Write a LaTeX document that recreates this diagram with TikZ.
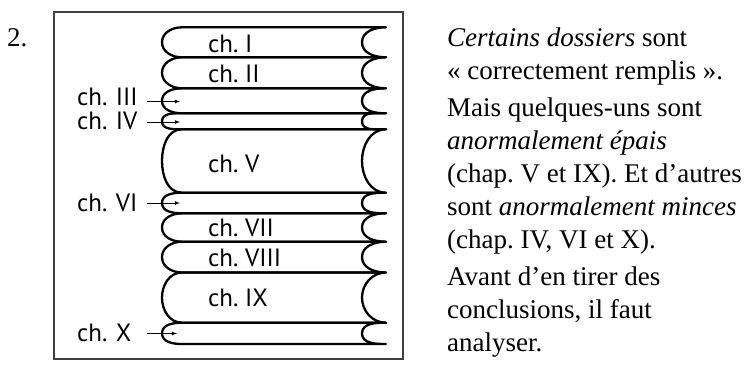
\documentclass[tikz,border=0pt]{standalone}
\usepackage{fontspec}
\setmainfont{Liberation Serif}
\newfontfamily\labelfont{PT Sans}
\frenchspacing
\tikzset{arrow/.style={->, >=latex, line width=0.8pt, shorten <=6pt}}
\tikzset{chapter/.style={line width=2.3pt, line join=round}}
\tikzset{chlabel/.style={anchor=base west, inner sep=0pt, font=\labelfont\fontsize{25}{25}\selectfont}}
\tikzset{outlabel/.style={chlabel, text width=64pt, align=left}}
\tikzset{prose/.style={anchor=base west, inner sep=0pt, font=\fontsize{27}{33}\selectfont}}

\begin{document}
\begin{tikzpicture}[x=1pt, y=-1pt]
      \useasboundingbox (0,0) rectangle (750,365);
      \node[prose] (num) at (7,46) {2.};
      \draw[black!75, line width=1.2pt] (54,12) rectangle (403,359);

      \foreach \t/\b in {27.3/57.3, 57.3/88.3, 88.3/113.3, 113.3/129.3, 129.3/192.7,
                         192.7/213.3, 213.3/241.7, 241.7/272.5, 272.5/322.7, 322.7/344}
        \draw[chapter] (182,\t) -- (386,\t)
            to[out=180, in=90] (362,{(\t+\b)/2}) to[out=270, in=180] (386,\b)
            -- (182,\b)
            to[out=180, in=270] (162,{(\t+\b)/2}) to[out=90, in=180] (182,\t);

      \node[chlabel] (chI) at (208,52.5) {ch. I};
      \node[chlabel] (chII) at (208,82) {ch. II};
      \node[chlabel] (chV) at (208,172) {ch. V};
      \node[chlabel] (chVII) at (208,236.5) {ch. VII};
      \node[chlabel] (chVIII) at (208,266) {ch. VIII};
      \node[chlabel] (chIX) at (208,306) {ch. IX};

      \node[outlabel] (chIII) at (77,105) {ch. III};
      \node[outlabel] (chIV) at (77,129.5) {ch. IV};
      \node[outlabel] (chVI) at (77,211) {ch. VI};
      \node[outlabel] (chX) at (77,341) {ch. X};

      \coordinate (pIII) at (180,101.5);
      \coordinate (pIV) at (180,122);
      \coordinate (pVI) at (180,203);
      \coordinate (pX) at (177,333.5);

      \draw[arrow] (chIII.east |- pIII) -- (pIII);
      \draw[arrow] (chIV.east |- pIV) -- (pIV);
      \draw[arrow] (chVI.east |- pVI) -- (pVI);
      \draw[arrow] (chX.east |- pX) -- (pX);

      \node[prose] (t1) at (447,46) {\textit{Certains dossiers} sont};
      \node[prose] (t2) at (447,79) {«~correctement remplis~».};
      \node[prose] (t3) at (447,116) {Mais quelques-uns sont};
      \node[prose] (t4) at (447,149) {\textit{anormalement épais}};
      \node[prose] (t5) at (447,182) {(chap. V et IX). Et d’autres};
      \node[prose] (t6) at (447,215) {sont \textit{anormalement minces}};
      \node[prose] (t7) at (447,248) {(chap. IV, VI et X).};
      \node[prose] (t8) at (447,285) {Avant d’en tirer des};
      \node[prose] (t9) at (447,318) {conclusions, il faut};
      \node[prose] (t10) at (447,351) {analyser.};
\end{tikzpicture}
\end{document}
